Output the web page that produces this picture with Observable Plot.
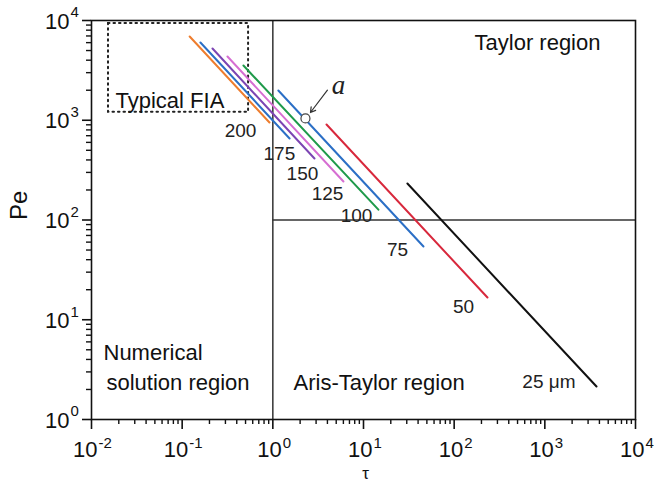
<!DOCTYPE html>
<html>
<head>
<meta charset="utf-8">
<script src="https://cdn.jsdelivr.net/npm/d3@7"></script>
<script src="https://cdn.jsdelivr.net/npm/@observablehq/plot@0.6"></script>
<style>
  html, body { margin: 0; padding: 0; background: white; }
</style>
</head>
<body>
<div id="chart"></div>
<script>
// ---- Data ----
const sizes    = ["200", "175", "150", "125", "100", "75", "50", "25 μm"];
const tauStart = [0.121, 0.159, 0.216, 0.316, 0.474, 1.15, 3.91, 30.5];
const peStart  = [6918, 6023, 5237, 4355, 3539, 1987, 906, 232];
const tauEnd   = [0.918, 1.53, 2.88, 6.01, 14.6, 45.9, 233, 3715];
const peEnd    = [949, 656, 414, 243, 127, 54.3, 16.7, 2.14];
const colors   = ["#ee7d2e", "#2b6fc6", "#7c45b3", "#d66ed2", "#1f9a4a", "#2b6fc6", "#d8283c", "#111111"];

// line label anchor points (data coordinates)
const labelTau = [0.44, 1.18, 2.12, 4.01, 8.37, 23.7, 127, 1110];
const labelPe  = [789, 464, 292, 184, 111, 50.6, 13.6, 2.40];

// region labels
const regionText   = ["Taylor region", "Typical FIA", "Numerical", "solution region", "Aris-Taylor region"];
const regionTau    = [830, 0.0184, 0.01356, 0.01463, 1.69];
const regionPe     = [6015, 1578, 4.69, 2.35, 2.35];
const regionAnchor = ["middle", "start", "start", "start", "start"];

// typical FIA box
const fiaTau = [0.0154, 0.54];
const fiaPe  = [1200, 9330];

// boundaries
const tauBoundary = 1;
const peBoundary  = 100;

// point a
const pointTau = [2.29];
const pointPe  = [1042];
const arrowFromTau = 4.0, arrowFromPe = 2000, arrowToTau = 2.6, arrowToPe = 1196;
const pointLabelTau = 5.3, pointLabelPe = 2250;

// ticks
const xMajor = [1e-2, 1e-1, 1e0, 1e1, 1e2, 1e3, 1e4];
const xExp   = ["-2", "-1", "0", "1", "2", "3", "4"];
const yMajor = [1e0, 1e1, 1e2, 1e3, 1e4];
const yExp   = ["0", "1", "2", "3", "4"];
const xMinor = [];
for (let e = -2; e < 4; e++) for (let m = 2; m <= 9; m++) xMinor.push(m * Math.pow(10, e));
const yMinor = [];
for (let e = 0; e < 4; e++) for (let m = 2; m <= 9; m++) yMinor.push(m * Math.pow(10, e));

// ---- Build tables ----
const lineData = sizes.flatMap((s, i) => [
  {s, tau: tauStart[i], pe: peStart[i], color: colors[i]},
  {s, tau: tauEnd[i], pe: peEnd[i], color: colors[i]}
]);
const labelData = sizes.map((s, i) => ({s, tau: labelTau[i], pe: labelPe[i]}));
const regionData = regionText.map((t, i) => ({t, tau: regionTau[i], pe: regionPe[i], anchor: regionAnchor[i]}));
const xTickLabels = xMajor.map((v, i) => ({v, e: xExp[i], neg: xExp[i].startsWith("-")}));
const xNeg = xTickLabels.filter(d => d.neg);
const xPos = xTickLabels.filter(d => !d.neg);
const yTickLabels = yMajor.map((v, i) => ({v, e: yExp[i]}));

const FONT = "'Liberation Sans', Arial, Helvetica, sans-serif";

const chart = Plot.plot({
  width: 654,
  height: 483,
  marginLeft: 91,
  marginRight: 19,
  marginTop: 20,
  marginBottom: 64,
  style: {fontFamily: FONT, background: "white", color: "#111"},
  x: {type: "log", domain: [1e-2, 1e4], axis: null},
  y: {type: "log", domain: [1e0, 1e4], axis: null},
  color: {type: "identity"},
  marks: [
    // region boundaries
    Plot.ruleX([tauBoundary], {y1: 1, y2: 1e4, stroke: "#333", strokeWidth: 1.5}),
    Plot.ruleY([peBoundary], {x1: tauBoundary, x2: 1e4, stroke: "#333", strokeWidth: 1.5}),
    // typical FIA box
    Plot.rect([{}], {x1: fiaTau[0], x2: fiaTau[1], y1: fiaPe[0], y2: fiaPe[1],
      fill: "none", stroke: "#222", strokeWidth: 2, strokeDasharray: "1.5,4", strokeLinecap: "round"}),
    // lines
    Plot.line(lineData, {x: "tau", y: "pe", z: "s", stroke: "color", strokeWidth: 2}),
    // line labels
    Plot.text(labelData, {x: "tau", y: "pe", text: "s", fontSize: 19, fill: "#222"}),
    // region labels
    Plot.text(regionData.filter(d => d.anchor === "middle"), {x: "tau", y: "pe", text: "t", fontSize: 22, fill: "#111", textAnchor: "middle"}),
    Plot.text(regionData.filter(d => d.anchor === "start"), {x: "tau", y: "pe", text: "t", fontSize: 22, fill: "#111", textAnchor: "start"}),
    // arrow and point a
    Plot.arrow([{}], {x1: arrowFromTau, y1: arrowFromPe, x2: arrowToTau, y2: arrowToPe,
      stroke: "#333", strokeWidth: 1.2, headLength: 7, bend: 0}),
    Plot.dot(pointTau.map((t, i) => ({t, p: pointPe[i]})), {x: "t", y: "p", r: 4.5, fill: "white", stroke: "#444", strokeWidth: 1.2}),
    Plot.text([{}], {x: pointLabelTau, y: pointLabelPe, text: () => "a", fontSize: 27,
      fontFamily: "'Liberation Serif', 'Times New Roman', serif", fontStyle: "italic", fill: "#222"}),
    // frame
    Plot.frame({stroke: "#111", strokeWidth: 1.6}),
    // axes ticks
    Plot.axisX(xMajor, {ticks: xMajor, tickSize: 10, tickFormat: () => "", label: null, strokeWidth: 1.6}),
    Plot.axisX(xMinor, {ticks: xMinor, tickSize: 5, tickFormat: () => "", label: null, strokeWidth: 1.4}),
    Plot.axisY(yMajor, {ticks: yMajor, tickSize: 9, tickFormat: () => "", label: null, strokeWidth: 1.6}),
    Plot.axisY(yMinor, {ticks: yMinor, tickSize: 5, tickFormat: () => "", label: null, strokeWidth: 1.4}),
    // x tick labels: "10" + superscript
    Plot.text(xNeg, {x: "v", y: 1, text: () => "10", fontSize: 22, fill: "#111", textAnchor: "end", dx: 6, dy: 30}),
    Plot.text(xNeg, {x: "v", y: 1, text: "e", fontSize: 15, fill: "#111", textAnchor: "start", dx: 7, dy: 24}),
    Plot.text(xPos, {x: "v", y: 1, text: () => "10", fontSize: 22, fill: "#111", textAnchor: "end", dx: 9, dy: 30}),
    Plot.text(xPos, {x: "v", y: 1, text: "e", fontSize: 15, fill: "#111", textAnchor: "start", dx: 10, dy: 24}),
    // y tick labels
    Plot.text(yTickLabels, {y: "v", x: 1e-2, text: () => "10", fontSize: 22, fill: "#111", textAnchor: "end", dx: -22, dy: 1}),
    Plot.text(yTickLabels, {y: "v", x: 1e-2, text: "e", fontSize: 15, fill: "#111", textAnchor: "start", dx: -21, dy: -8}),
    // axis titles
    Plot.text(["Pe"], {frameAnchor: "left", text: d => d, rotate: -90, dx: -72, fontSize: 24, fill: "#111"}),
    Plot.text(["τ"], {frameAnchor: "bottom", lineAnchor: "middle", text: d => d, dx: 2, dy: 54, fontSize: 17, fill: "#111"})
  ]
});

document.getElementById("chart").appendChild(chart);
</script>
</body>
</html>
